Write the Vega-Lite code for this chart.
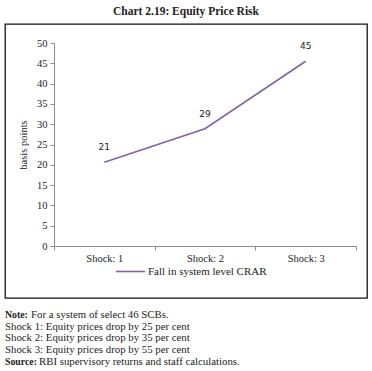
{
  "$schema": "https://vega.github.io/schema/vega-lite/v6.json",
  "background": "white",
  "padding": {"top": 5, "left": 4, "right": 6, "bottom": 5},
  "title": {"text": "Chart 2.19: Equity Price Risk", "font": "Liberation Serif", "fontSize": 11.5, "fontWeight": "bold", "color": "#222", "anchor": "middle", "offset": 6},
  "spacing": 9,
  "config": {
    "axis": {"domainColor": "#8c8c8c", "tickColor": "#8c8c8c", "labelFont": "Liberation Serif", "labelFontSize": 10.5, "labelColor": "#222", "titleFont": "Liberation Serif", "titleFontSize": 10.5, "titleFontWeight": "normal", "titleColor": "#222", "grid": false}
  },
  "vconcat": [
    {
      "width": 362,
      "height": 274,
      "view": {"stroke": "#111", "strokeWidth": 1.3},
      "data": {"values": [
        {"shock": "Shock: 1", "value": 20.6, "label": "21", "series": "Fall in system level CRAR"},
        {"shock": "Shock: 2", "value": 28.9, "label": "29", "series": "Fall in system level CRAR"},
        {"shock": "Shock: 3", "value": 45.5, "label": "45", "series": "Fall in system level CRAR"}
      ]},
      "encoding": {
        "x": {"field": "shock", "type": "nominal", "sort": null,
          "scale": {"type": "band", "range": [49, 351], "paddingInner": 0, "paddingOuter": 0},
          "axis": {"title": null, "labelAngle": 0, "offset": -52, "tickBand": "extent", "tickSize": 4, "labelPadding": 3}},
        "y": {"field": "value", "type": "quantitative",
          "scale": {"domain": [0, 50], "range": [222, 19]},
          "axis": {"title": "basis points", "values": [0, 5, 10, 15, 20, 25, 30, 35, 40, 45, 50], "offset": -49, "tickSize": 4, "labelPadding": 3, "titlePadding": 8}}
      },
      "layer": [
        {
          "mark": {"type": "line", "strokeWidth": 1.6},
          "encoding": {
            "color": {"field": "series", "type": "nominal", "scale": {"range": ["#8064A2"]},
              "legend": {"title": null, "orient": "none", "legendX": 110, "legendY": 232, "padding": 0, "symbolType": "stroke", "symbolSize": 841, "symbolStrokeWidth": 1.6, "labelFont": "Liberation Serif", "labelFontSize": 11, "labelColor": "#222", "labelOffset": 2}}
          }
        },
        {
          "mark": {"type": "text", "dy": -15, "font": "DejaVu Sans", "fontSize": 9, "color": "#222"},
          "encoding": {"text": {"field": "label"}}
        }
      ]
    },
    {
      "width": 362,
      "height": 58.75,
      "view": {"stroke": null},
      "data": {"values": [
        {"line": 1, "bold": "Note:", "text": "For a system of select 46 SCBs."},
        {"line": 2, "bold": "", "text": "Shock 1: Equity prices drop by 25 per cent"},
        {"line": 3, "bold": "", "text": "Shock 2: Equity prices drop by 35 per cent"},
        {"line": 4, "bold": "", "text": "Shock 3: Equity prices drop by 55 per cent"},
        {"line": 5, "bold": "Source:", "text": "RBI supervisory returns and staff calculations."}
      ]},
      "encoding": {
        "y": {"field": "line", "type": "ordinal", "axis": null, "scale": {"type": "point", "padding": 0.5}},
        "x": {"value": 0}
      },
      "layer": [
        {
          "mark": {"type": "text", "align": "left", "baseline": "middle", "font": "Liberation Serif", "fontSize": 9.8, "fontWeight": "bold", "color": "#222"},
          "encoding": {"text": {"field": "bold"}}
        },
        {
          "transform": [{"filter": "datum.line >= 2 && datum.line <= 4"}],
          "mark": {"type": "text", "align": "left", "baseline": "middle", "font": "Liberation Serif", "fontSize": 10.8, "color": "#222"},
          "encoding": {"text": {"field": "text"}}
        },
        {
          "transform": [{"filter": "datum.line == 1"}],
          "mark": {"type": "text", "align": "left", "baseline": "middle", "dx": 26, "font": "Liberation Serif", "fontSize": 10.8, "color": "#222"},
          "encoding": {"text": {"field": "text"}}
        },
        {
          "transform": [{"filter": "datum.line == 5"}],
          "mark": {"type": "text", "align": "left", "baseline": "middle", "dx": 34, "font": "Liberation Serif", "fontSize": 10.8, "color": "#222"},
          "encoding": {"text": {"field": "text"}}
        }
      ]
    }
  ]
}
